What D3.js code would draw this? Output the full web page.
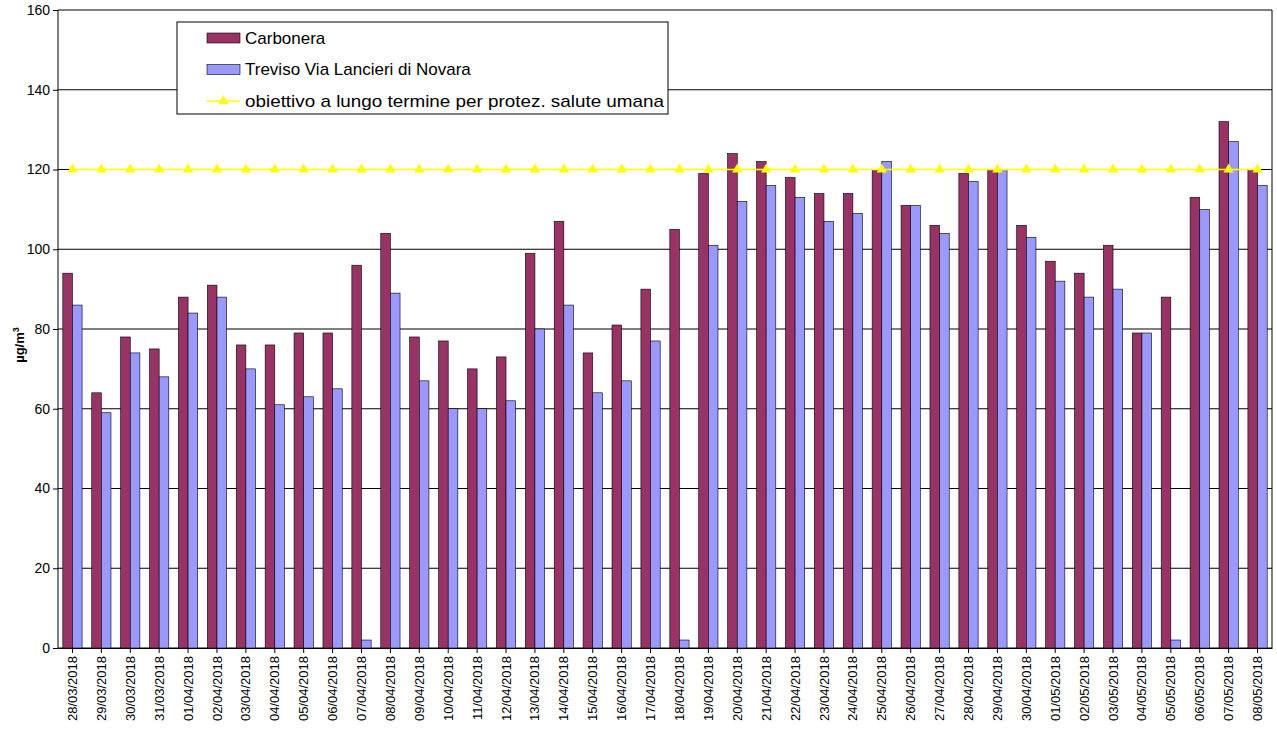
<!DOCTYPE html>
<html><head><meta charset="utf-8">
<script src="https://cdn.jsdelivr.net/npm/d3@7"></script>
<style>body{margin:0;background:#fff}text{font-family:"Liberation Sans",Arial,sans-serif}</style>
</head><body><div id="root"></div>
<script>
const dates = ["28/03/2018","29/03/2018","30/03/2018","31/03/2018","01/04/2018","02/04/2018","03/04/2018","04/04/2018","05/04/2018","06/04/2018","07/04/2018","08/04/2018","09/04/2018","10/04/2018","11/04/2018","12/04/2018","13/04/2018","14/04/2018","15/04/2018","16/04/2018","17/04/2018","18/04/2018","19/04/2018","20/04/2018","21/04/2018","22/04/2018","23/04/2018","24/04/2018","25/04/2018","26/04/2018","27/04/2018","28/04/2018","29/04/2018","30/04/2018","01/05/2018","02/05/2018","03/05/2018","04/05/2018","05/05/2018","06/05/2018","07/05/2018","08/05/2018"];
const carbonera = [94,64,78,75,88,91,76,76,79,79,96,104,78,77,70,73,99,107,74,81,90,105,119,124,122,118,114,114,120,111,106,119,120,106,97,94,101,79,88,113,132,120];
const treviso = [86,59,74,68,84,88,70,61,63,65,2,89,67,60,60,62,80,86,64,67,77,2,101,112,116,113,107,109,122,111,104,117,120,103,92,88,90,79,2,110,127,116];
const target = 120;
const yTicks = [0,20,40,60,80,100,120,140,160];

const width = 1277, height = 753;
const margin = {left: 58, top: 10, right: 5, bottom: 105};
const cw = width - margin.left - margin.right, ch = height - margin.top - margin.bottom;

const svg = d3.select("#root").append("svg").attr("width", width).attr("height", height);
const g = svg.append("g").attr("transform", `translate(${margin.left},${margin.top})`);

const x = d3.scaleBand().domain(dates).range([0, cw]);
const inner = d3.scaleBand().domain(["c","t"]).range([0, x.bandwidth()]).paddingInner(0).paddingOuter(0.5);
const y = d3.scaleLinear().domain([0,160]).range([ch, 0]);

// grid
g.selectAll("line.grid").data(yTicks).enter().append("line")
  .attr("x1",0).attr("x2",cw).attr("y1",d=>y(d)).attr("y2",d=>y(d))
  .attr("stroke","#000").attr("stroke-width",1);
g.append("line").attr("x1",0).attr("x2",0).attr("y1",0).attr("y2",ch).attr("stroke","#000");
g.append("line").attr("x1",cw).attr("x2",cw).attr("y1",0).attr("y2",ch).attr("stroke","#000");

// bars
g.selectAll("rect.c").data(dates).enter().append("rect")
  .attr("x",(d)=>x(d)+inner("c")).attr("width",inner.bandwidth())
  .attr("y",(d,i)=>y(carbonera[i])).attr("height",(d,i)=>ch-y(carbonera[i]))
  .attr("fill","#993366").attr("stroke","#000").attr("stroke-width",0.6);
g.selectAll("rect.t").data(dates).enter().append("rect")
  .attr("x",(d)=>x(d)+inner("t")).attr("width",inner.bandwidth())
  .attr("y",(d,i)=>y(treviso[i])).attr("height",(d,i)=>ch-y(treviso[i]))
  .attr("fill","#9999FF").attr("stroke","#000").attr("stroke-width",0.6);

// target line
const cx = d => x(d) + x.bandwidth()/2;
g.append("path").attr("d", d3.line().x(cx).y(()=>y(target))(dates))
  .attr("fill","none").attr("stroke","#FFFF00").attr("stroke-width",1.5);
const tri = d3.symbol().type(d3.symbolTriangle).size(45);
g.selectAll("path.m").data(dates).enter().append("path")
  .attr("d",tri).attr("transform",d=>`translate(${cx(d)},${y(target)})`).attr("fill","#FFFF00");

// axes
const ya = g.append("g").call(d3.axisLeft(y).tickValues(yTicks).tickSize(5));
ya.select(".domain").remove();
ya.selectAll("text").attr("font-size",14).attr("fill","#000").attr("font-family","Liberation Sans, Arial");
const xa = g.append("g").attr("transform",`translate(0,${ch})`).call(d3.axisBottom(x).tickSize(5).tickSizeOuter(0));
xa.select(".domain").attr("stroke","#000");
xa.selectAll("text").attr("transform","rotate(-90)").attr("text-anchor","end")
  .attr("x",-8).attr("y",0).attr("dy","0.35em").attr("font-size",13).attr("fill","#000").attr("font-family","Liberation Sans, Arial");

// y title
const yt = svg.append("text").attr("transform","translate(24,345) rotate(-90)").attr("text-anchor","middle")
  .attr("font-size",13).attr("font-weight","bold");
yt.append("tspan").text("µg/m");
yt.append("tspan").attr("dy",-5).attr("font-size",9).text("3");

// legend
const lg = svg.append("g").attr("transform","translate(177,22)");
lg.append("rect").attr("width",491).attr("height",92).attr("fill","#fff").attr("stroke","#000");
const items = [{n:"Carbonera",t:"bar",c:"#993366"},{n:"Treviso Via Lancieri  di Novara",t:"bar",c:"#9999FF"},{n:"obiettivo a lungo termine per protez. salute umana",t:"line",c:"#FFFF00"}];
items.forEach((it,i)=>{
  const yy = 16 + i*31.5;
  if (it.t==="bar") lg.append("rect").attr("x",30).attr("y",yy-5).attr("width",33).attr("height",10).attr("fill",it.c).attr("stroke","#000").attr("stroke-width",0.6);
  else {
    lg.append("line").attr("x1",30).attr("x2",63).attr("y1",yy).attr("y2",yy).attr("stroke",it.c).attr("stroke-width",1.5);
    lg.append("path").attr("d",tri).attr("transform",`translate(46.5,${yy})`).attr("fill",it.c);
  }
  lg.append("text").attr("x",68).attr("y",yy).attr("dy","0.35em").attr("font-size",17)
    .attr("textLength", i===2 ? 419 : null).attr("lengthAdjust","spacingAndGlyphs").text(it.n);
});
</script></body></html>
